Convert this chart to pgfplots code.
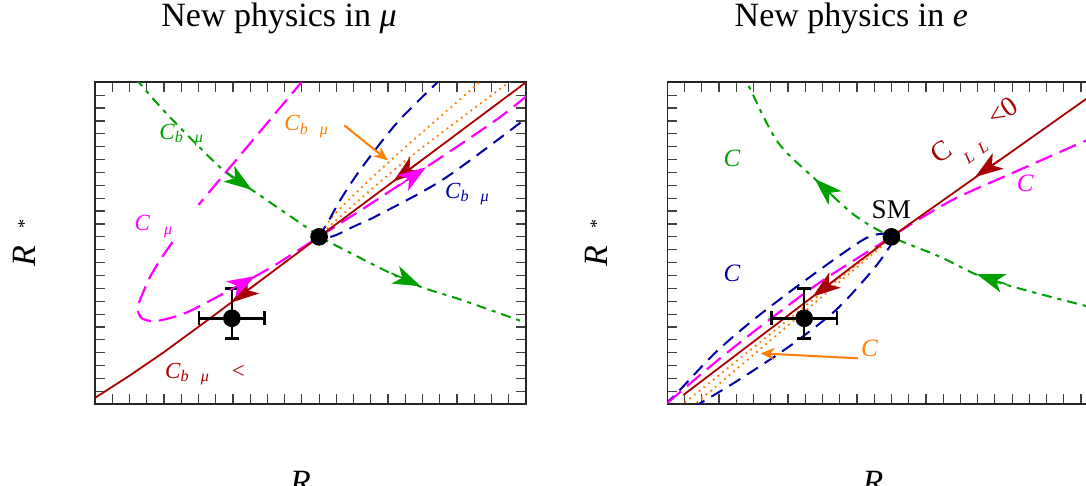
\documentclass[border=0pt]{standalone}
\usepackage{fontspec}
\setmainfont{Liberation Serif}
\usepackage{pgfplots}
\pgfplotsset{compat=1.18}
\usetikzlibrary{arrows.meta}
\definecolor{cred}{RGB}{170,0,0}
\definecolor{cgreen}{RGB}{0,160,0}
\definecolor{cblue}{RGB}{0,0,165}
\definecolor{corange}{RGB}{255,128,0}
\definecolor{cmag}{RGB}{255,0,255}
\tikzset{
  arr/.style={solid, line width=0.8pt, -{Stealth[length=14pt,width=9.5pt,inset=3.8pt]}},
  sarr/.style={solid, line width=1pt, -{Stealth[length=7pt,width=6pt]}},
  ebar/.style={black, solid, line width=1.3pt, {Bar[width=7pt,line width=1.3pt]}-{Bar[width=7pt,line width=1.3pt]}},
}
\pgfplotsset{panel/.style={
  scale only axis, width=215.5pt, height=161pt,
  xmin=0, xmax=25, ymin=0, ymax=25,
  xtick={0,...,25}, ytick={0,...,25},
  xticklabels={}, yticklabels={},
  tick align=inside, major tick length=5pt,
  tick style={line width=0.6pt, black!75},
  axis line style={line width=0.8pt, black!85},
  title style={at={(axis description cs:0.427,1.1366)}, anchor=base, font=\fontsize{17}{20}\selectfont},
  xlabel style={at={(axis description cs:0.477,-0.2776)}, anchor=base, font=\fontsize{17}{20}\selectfont},
  ylabel style={at={(axis description cs:-0.139,0.5)}, anchor=base, font=\fontsize{17}{20}\selectfont},
}}
\newcommand{\lbl}{\fontsize{11.5}{13}\selectfont}
\newcommand{\rlbl}{\fontsize{12.5}{14}\selectfont}
\begin{document}
\begin{tikzpicture}
%% ---------------- left panel ----------------
\begin{axis}[panel, at={(47.5pt,40.85pt)}, anchor=south west,
  title={New physics in \textit{μ}},
  xlabel={\textit{R}},
  ylabel={\textit{R}\hspace{8.5pt}\raisebox{2.5pt}{\fontsize{9}{9}\selectfont *}}]
% orange dotted
\addplot[corange, line width=1.3pt, line cap=round, dash pattern=on 0pt off 3pt, smooth]
  coordinates {(13,13) (14,14.9) (17.2,19.0) (22.3,25.0) (22.5,25.3)};
\addplot[corange, line width=1.3pt, line cap=round, dash pattern=on 0pt off 3pt, smooth]
  coordinates {(13,13) (14,14.3) (18,18.9) (24,25.0) (24.3,25.3)};
% blue dashed
\addplot[cblue, line width=1pt, dash pattern=on 6.5pt off 4pt, smooth]
  coordinates {(20.1,25.3) (17.56,21.92) (15.43,18.29) (14.2,15.8) (13.5,14.1) (13.1,13.2) (13.3,12.9) (14,13.15) (15,13.8) (16.4,14.67) (20.26,17.52) (25.1,22.3)};
% green dash-dot
\addplot[cgreen, line width=1pt, dash pattern=on 5pt off 3pt on 2pt off 3pt, smooth]
  coordinates {(2.35,25.3) (4.25,22.43) (7.35,18.29) (9.28,16.48) (12.37,13.64) (13,13) (13.69,12.52) (18.33,9.42) (21.23,8.12) (25,6.33)};
\addplot[cgreen, arr] coordinates {(7.6,18.05) (9.1,16.65)};
\addplot[cgreen, arr] coordinates {(17.2,10.18) (18.9,9.16)};
% magenta long dashed
\addplot[cmag, line width=1.1pt, dash pattern=on 9pt off 4pt]
  coordinates {(12.1,25.2) (6,15.48)};
\addplot[cmag, line width=1.1pt, dash pattern=on 9pt off 4pt, smooth]
  coordinates {(4.5,12.6) (3.85,11.35) (3.2,9.9) (2.7,8.4) (2.47,7.45) (2.7,6.7) (3.4,6.45) (4.5,6.75) (5.6,7.3) (7.8,8.85) (10.3,10.7) (13,13) (15.8,15.4) (18.3,17.6) (21,20.0) (23.5,22.3) (25.1,24.0)};
% dark red solid
\addplot[cred, line width=0.9pt] coordinates {(0,0.5) (2,2.22) (4,4.05) (6.6,6.6) (13,13) (25,25)};
% measurement error bars
\addplot[ebar] coordinates {(5.96,6.68) (9.92,6.68)};
\addplot[ebar] coordinates {(7.94,4.99) (7.94,9.08)};
\addplot[cred, arr] coordinates {(18.8,18.8) (17.3,17.3)};
\addplot[cred, arr] coordinates {(9.4,9.4) (7.9,7.9)};
\addplot[cmag, arr] coordinates {(7.8,8.85) (9.3,9.95)};
\addplot[cmag, arr] coordinates {(17.6,16.95) (19.2,18.4)};
% orange annotation arrow
\addplot[corange, sarr] coordinates {(14.46,21.66) (16.98,18.94)};
% measurement and SM points
\addplot[black, only marks, mark=*, mark size=4.2pt] coordinates {(7.94,6.68)};
\addplot[black, only marks, mark=*, mark size=4.2pt] coordinates {(13,13)};
% labels
\node[cgreen, font=\lbl] at (axis cs:5.03,20.9) {\textit{C}\textsubscript{\textit{b}\hspace{6pt}\textit{μ}}};
\node[corange, font=\lbl] at (axis cs:12.28,21.55) {\textit{C}\textsubscript{\textit{b}\hspace{6pt}\textit{μ}}};
\node[cblue, font=\lbl] at (axis cs:21.6,16.33) {\textit{C}\textsubscript{\textit{b}\hspace{6pt}\textit{μ}}};
\node[cmag, font=\lbl] at (axis cs:3.42,13.79) {\textit{C}\textsubscript{\hspace{7pt}\textit{μ}}};
\node[cred, font=\lbl] at (axis cs:6.38,2.35) {\textit{C}\textsubscript{\textit{b}\hspace{6pt}\textit{μ}}\hspace{11pt}\textless};
\end{axis}
%% ---------------- right panel ----------------
\begin{axis}[panel, at={(333.65pt,40.85pt)}, anchor=south west,
  title={New physics in \textit{e}},
  xlabel={\textit{R}},
  ylabel={\textit{R}\hspace{8.5pt}\raisebox{2.5pt}{\fontsize{9}{9}\selectfont *}}]
% orange dotted
\addplot[corange, line width=1.3pt, line cap=round, dash pattern=on 0pt off 3pt]
  coordinates {(13,13) (0.43,-0.5)};
\addplot[corange, line width=1.3pt, line cap=round, dash pattern=on 0pt off 3pt]
  coordinates {(12.9,12.8) (1.16,-0.5)};
% blue dashed ellipse
\addplot[cblue, line width=1pt, dash pattern=on 6.5pt off 4pt, smooth]
  coordinates {(-0.2,0) (0.45,0.72) (2.78,4.0) (5.11,6.68) (8.03,9.65) (11.34,12.76) (12.6,13.25) (13.15,12.95) (12.9,12.24) (11.92,10.43) (9.78,7.32) (7.06,4.48) (4.14,1.89) (1.81,0) (1.3,-0.4)};
% green dash-dot
\addplot[cgreen, line width=1pt, dash pattern=on 5pt off 3pt on 2pt off 3pt, smooth]
  coordinates {(25.2,7.35) (24.43,7.58) (18.73,9.65) (15.81,11.46) (13,13) (10.87,14.67) (8.54,17.52) (6.4,20.37) (4.75,24.64) (4.6,25.2)};
\addplot[cgreen, arr] coordinates {(9.7,16.05) (8.55,17.5)};
\addplot[cgreen, arr] coordinates {(19.7,9.3) (17.95,10.1)};
% magenta dashed
\addplot[cmag, line width=1.1pt, dash pattern=on 9pt off 4pt, smooth]
  coordinates {(0,0.1) (3,3.5) (6,6.65) (9,9.6) (13,13) (14.16,14.0) (16.68,15.96) (20.38,18.17) (24.37,20.52) (25.2,20.9)};
% dark red solid
\addplot[cred, line width=0.9pt] coordinates {(25.5,24.85) (13,13) (0.93,0.72)};
% measurement error bars
\addplot[ebar] coordinates {(5.96,6.68) (9.92,6.68)};
\addplot[ebar] coordinates {(7.94,4.99) (7.94,9.08)};
\addplot[cred, arr] coordinates {(19.3,19.0) (17.86,17.65)};
\addplot[cred, arr] coordinates {(9.8,9.72) (8.42,8.35)};
% orange annotation arrow
\addplot[corange, sarr] coordinates {(11.05,3.57) (5.41,3.96)};
% measurement and SM points
\addplot[black, only marks, mark=*, mark size=4.2pt] coordinates {(7.94,6.68)};
\addplot[black, only marks, mark=*, mark size=4.2pt] coordinates {(13,13)};
% labels
\node[cgreen, font=\rlbl] at (axis cs:3.76,19.1) {\textit{C}};
\node[cblue, font=\rlbl] at (axis cs:3.76,10.17) {\textit{C}};
\node[corange, font=\rlbl] at (axis cs:11.73,4.35) {\textit{C}};
\node[cmag, font=\rlbl] at (axis cs:20.77,17.13) {\textit{C}};
\node[black, font=\fontsize{13.5}{15}\selectfont] at (axis cs:12.99,15.12) {SM};
\node[cred, font=\fontsize{14}{16}\selectfont, rotate=33.8, anchor=base] at (axis cs:18.1,20.7)
  {C\raisebox{-8pt}{\fontsize{8}{8}\selectfont\hspace{3pt}\textit{L}\hspace{4pt}\textit{L}}\hspace{8.5pt}\textless 0};
\end{axis}
\pgfresetboundingbox
\path[use as bounding box] (0pt,0pt) rectangle (543pt,243pt);
\end{tikzpicture}
\end{document}
